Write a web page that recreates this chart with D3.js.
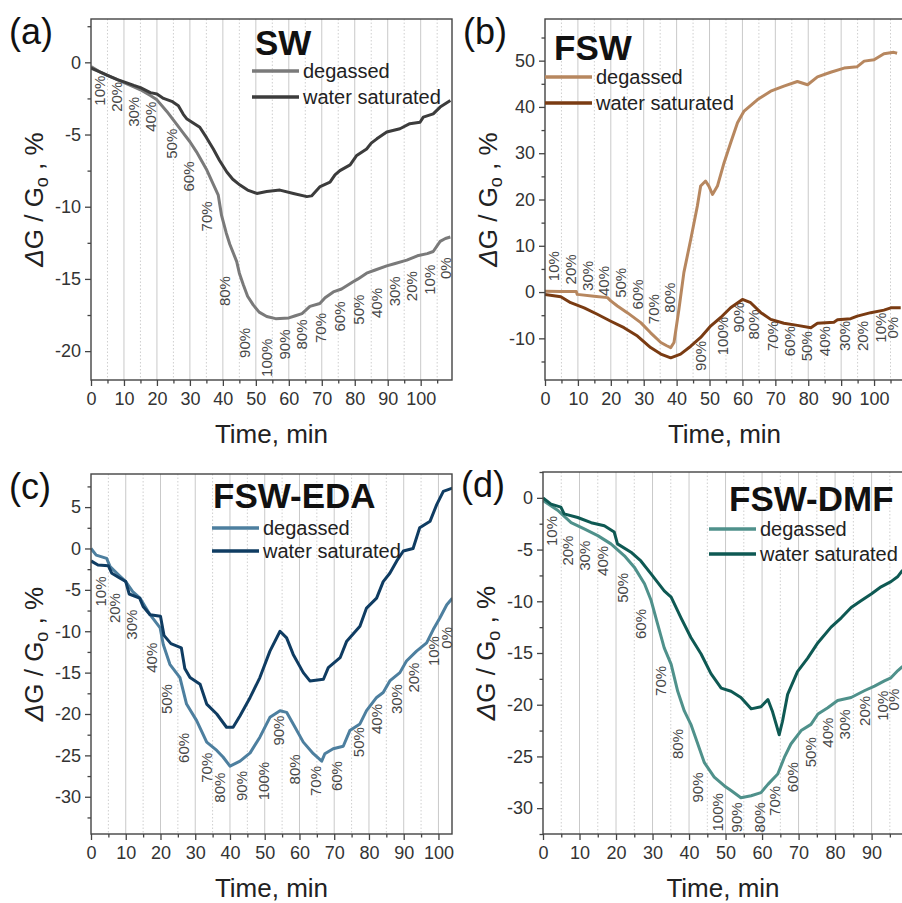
<!DOCTYPE html>
<html>
<head>
<meta charset="utf-8">
<script src="https://cdn.jsdelivr.net/npm/d3@7"></script>
<style>
  body { margin: 0; background: #fff; }
  svg { display: block; font-family: "Liberation Sans", Arial, sans-serif; }
</style>
</head>
<body>
<script>
// ---- data : [time (min), ΔG/G0 (%)] ----
const swDegassed = [[0,-0.3],[3,-0.7],[5,-0.9],[8,-1.2],[10,-1.4],[13,-1.7],[15,-1.9],[18,-2.3],[20,-2.6],[23,-3.4],[26,-4.3],[28,-4.9],[30,-5.5],[32,-6.2],[35,-7.4],[37,-8.4],[38.6,-9.2],[39.6,-10.6],[41,-11.8],[42.1,-12.6],[44.2,-13.8],[45,-14.6],[46.2,-15.4],[47.5,-16.2],[49.2,-16.8],[51,-17.3],[53.3,-17.6],[56,-17.75],[60,-17.7],[62,-17.55],[64,-17.4],[65,-17.2],[66.4,-16.9],[69.4,-16.7],[71,-16.3],[73.5,-15.9],[76,-15.7],[79.5,-15.2],[81,-15.0],[83.6,-14.6],[86,-14.4],[89.7,-14.1],[92,-13.95],[95.8,-13.7],[99,-13.4],[102,-13.25],[103.8,-13.1],[105.9,-12.4],[107.5,-12.2],[109,-12.1]];
const swWater = [[0,-0.4],[3,-0.7],[5,-0.9],[8,-1.2],[10,-1.35],[13,-1.6],[15,-1.75],[18,-2.1],[20,-2.2],[22,-2.5],[24.5,-2.7],[26.5,-3.0],[28,-3.6],[29,-3.9],[31,-4.2],[33,-4.5],[35,-5.2],[37.1,-6.0],[39,-6.8],[41.2,-7.6],[43,-8.1],[45.2,-8.5],[47.5,-8.85],[50.3,-9.08],[53.3,-8.95],[57.3,-8.85],[61.4,-9.08],[65.5,-9.3],[66.9,-9.25],[69.5,-8.6],[72.5,-8.3],[74,-7.8],[75.5,-7.5],[78.6,-7.1],[80.6,-6.45],[83.6,-6.0],[85,-5.6],[86.7,-5.3],[89.7,-4.83],[93.7,-4.6],[96.7,-4.25],[99.8,-4.15],[100.8,-3.8],[103.8,-3.57],[105.9,-3.1],[109,-2.65]];

const fswDegassed = [[0,0.2],[5,0.1],[9.5,0.1],[9.8,-0.5],[14.9,-0.9],[19,-1.2],[20,-1.9],[22,-3.0],[25,-4.45],[29.1,-6.6],[32.1,-8.8],[35.2,-10.9],[37,-11.6],[38.2,-12.0],[39.2,-10.9],[40.7,-3.7],[42.2,4.2],[44.3,11.4],[46.3,18.6],[47.3,22.9],[48.8,24.0],[49.8,22.9],[50.9,21.1],[52.4,22.9],[54.4,27.9],[56.4,32.2],[58.5,36.6],[60.5,39.1],[64.6,41.6],[68.6,43.4],[72.6,44.5],[76.7,45.5],[79.8,44.8],[82.8,46.5],[86.8,47.5],[90.9,48.4],[94.9,48.7],[97,49.9],[100,50.2],[103,51.5],[106,51.8],[107,51.6]];
const fswWater = [[0,-0.5],[4.8,-1.0],[7.8,-2.3],[11.9,-3.4],[15.9,-4.8],[20,-6.3],[24,-7.7],[28.1,-9.5],[32.1,-12.0],[35.2,-13.4],[38.2,-14.2],[41.2,-13.4],[44.3,-11.7],[47.3,-9.8],[50.4,-7.3],[53.4,-5.5],[56.4,-3.4],[60,-1.6],[62.5,-2.3],[65.6,-4.45],[68.6,-5.9],[72.6,-6.75],[76.7,-7.2],[80.8,-7.7],[82.8,-6.75],[87.8,-6.5],[88.9,-6.0],[92.9,-5.75],[94.9,-5.2],[99,-4.45],[103,-3.9],[105.1,-3.4],[108.1,-3.4]];

const edaDegassed = [[0,0],[1.5,-0.8],[4.5,-1.2],[5.5,-2.2],[8,-3.2],[10,-4.0],[12,-5.2],[14.1,-6.0],[17,-8.0],[19.9,-9.6],[20.8,-11.6],[22.7,-14.0],[25.6,-15.6],[27.5,-18.8],[30.4,-20.8],[33.3,-23.4],[36.2,-24.4],[38,-25.2],[40,-26.3],[42.9,-25.7],[45.8,-24.7],[48.6,-22.8],[51.5,-20.4],[54.4,-19.6],[56.3,-19.8],[58.2,-21.2],[61.1,-23.4],[64,-24.8],[66.4,-25.7],[67.3,-24.8],[69.7,-24.2],[72.6,-23.9],[74.5,-22.0],[77.4,-21.2],[79.3,-19.6],[82.2,-18.0],[84.1,-17.4],[86,-16.0],[88.9,-15.0],[90.8,-13.6],[93.7,-12.4],[96.6,-11.4],[98.5,-9.8],[100.4,-8.4],[102.4,-6.8],[104,-6.0]];
const edaWater = [[0,-1.5],[2,-2.0],[5,-2.1],[6,-3.0],[8,-3.5],[10,-4.0],[11,-5.5],[14,-6.0],[15,-7.0],[17,-8.0],[20,-8.2],[21,-10.5],[23,-11.5],[26,-12.0],[27,-14.5],[28.5,-15.6],[31.4,-16.4],[33.3,-18.8],[36.2,-20.0],[39,-21.6],[40.9,-21.6],[42.9,-20.2],[45.8,-18.0],[48.6,-15.6],[51.5,-12.4],[54.4,-10.0],[56.3,-10.8],[58.2,-12.8],[61.1,-15.0],[63,-16.0],[66.9,-15.8],[68.3,-14.4],[71.7,-13.2],[73.6,-11.2],[77.4,-9.4],[79.3,-7.2],[82.2,-6.0],[84.1,-4.0],[86,-3.0],[88,-1.5],[89.9,-0.3],[92.7,0],[94.6,2.5],[97.6,3.3],[99.5,5.3],[101.4,6.9],[104,7.3]];

const dmfDegassed = [[0,-0.25],[4,-1.2],[7.7,-2.4],[11.3,-3.0],[15,-3.65],[18.6,-4.45],[22.3,-5.6],[25,-6.7],[27.8,-8.3],[29.6,-9.9],[31.4,-12.2],[33.2,-14.5],[35.1,-16.1],[36.9,-18.7],[38.7,-20.6],[40.5,-21.9],[42.4,-23.8],[44.2,-25.6],[46.9,-27.0],[49.7,-27.85],[51.5,-28.3],[54.2,-29.0],[57,-28.8],[59.7,-28.5],[61.6,-27.7],[64.3,-26.7],[66.1,-25.1],[67.9,-23.8],[70.7,-22.5],[73.4,-21.9],[75.3,-20.9],[78,-20.3],[80.7,-19.6],[84.4,-19.3],[88,-18.65],[90.8,-18.2],[93.5,-17.7],[95.3,-17.4],[97.2,-16.7],[98.5,-16.3]];
const dmfWater = [[0,0],[2.2,-0.6],[4.9,-0.9],[5.8,-1.55],[9.5,-1.9],[13.2,-2.4],[16.8,-2.7],[19.5,-3.3],[20.4,-4.45],[24.1,-5.25],[26.8,-6.1],[29.6,-7.35],[33.2,-9.0],[35.1,-9.6],[37.8,-11.6],[40.5,-13.5],[43.3,-15.1],[46,-17.0],[48.8,-18.4],[51.5,-18.7],[54.2,-19.3],[57,-20.4],[59.7,-20.2],[61.6,-19.5],[62.8,-20.6],[64.7,-22.9],[65.6,-21.6],[67,-19.0],[69.7,-16.8],[72.5,-15.5],[75.3,-14.0],[78.9,-12.5],[81.7,-11.6],[84.4,-10.6],[87.1,-9.95],[89.9,-9.3],[92.6,-8.6],[95.3,-8.1],[97.2,-7.6],[98.5,-7.0]];

// humidity step labels: [text, time, value]
const swSteps = [["10%",2.7,-1.96],["20%",7.8,-2.39],["30%",12.8,-3.43],["40%",17.9,-3.77],["50%",24.5,-5.64],["60%",29.5,-7.91],["70%",35.1,-10.67],["80%",40.6,-15.84],["90%",46.7,-19.43],["100%",53.3,-20.46],["90%",58.8,-19.54],["80%",63.9,-18.85],["70%",69.5,-18.4],["60%",75.5,-17.6],["50%",81.1,-17.13],["40%",86.6,-16.67],["30%",92.2,-15.86],["20%",97.3,-15.5],["10%",102.8,-15.06],["0%",107.6,-14.26]];
const fswSteps = [["10%",2.7,5.6],["20%",7.8,4.9],["30%",12.9,3.5],["40%",17.9,2.4],["50%",23.0,2.0],["60%",28.1,-0.5],["70%",33.1,-3.7],["80%",37.7,-1.2],["90%",47.3,-13.8],["100%",53.9,-9.5],["90%",58.7,-5.5],["80%",63.5,-7.0],["70%",69.1,-9.5],["60%",74.2,-10.6],["50%",79.5,-11.7],["40%",84.8,-10.6],["30%",90.9,-9.5],["20%",96.5,-9.5],["10%",102.0,-7.7],["0%",105.5,-7.7]];
const edaSteps = [["10%",2.6,-5.2],["20%",6.9,-7.2],["30%",11.7,-9.2],["40%",17.5,-13.2],["50%",21.8,-18.2],["60%",26.6,-24.1],["70%",33.3,-26.5],["80%",37.1,-28.9],["90%",43.4,-28.7],["100%",49.6,-28.1],["90%",53.9,-22.0],["80%",58.7,-26.7],["70%",64.5,-28.1],["60%",70.7,-27.5],["50%",76.9,-23.4],["40%",82.2,-20.6],["30%",88,-18.2],["20%",92.7,-15.6],["10%",98.5,-12.4],["0%",102.2,-10.8]];
const dmfSteps = [["10%",2.2,-3.2],["20%",6.8,-5.1],["30%",11.3,-5.6],["40%",16.4,-6.1],["50%",21.8,-8.7],["60%",26.8,-12.2],["70%",32.3,-17.7],["80%",36.9,-23.8],["90%",42.4,-28.0],["100%",47.9,-30.4],["90%",52.9,-30.9],["80%",59.3,-30.9],["70%",63.4,-29.3],["60%",68.4,-27.0],["50%",73.4,-24.6],["40%",78,-22.7],["30%",82.5,-21.9],["20%",88,-20.6],["10%",93.1,-20.1],["0%",96.0,-19.5]];

const seriesNames = ["degassed", "water saturated"];

// ---- panel layout ----
const panels = [
  { tag: "(a)", title: "SW", box: { l: 91, t: 19, r: 452, b: 380 }, xMax: 109.5, yDom: [-22, 3], yStep: 5,
    colors: ["#7a7a7a", "#3c3c3c"], series: [swDegassed, swWater], steps: swSteps,
    titleAt: [255, 55], legendAt: [252, 71, 26] },
  { tag: "(b)", title: "FSW", box: { l: 545, t: 19, r: 904, b: 380 }, xMax: 109.1, yDom: [-19, 59], yStep: 10,
    colors: ["#b7875f", "#7a3b12"], series: [fswDegassed, fswWater], steps: fswSteps,
    titleAt: [554, 60], legendAt: [545, 77, 26] },
  { tag: "(c)", title: "FSW-EDA", box: { l: 91, t: 474, r: 452, b: 834 }, xMax: 103.9, yDom: [-34.5, 9], yStep: 5,
    colors: ["#4d7f9f", "#0f3c62"], series: [edaDegassed, edaWater], steps: edaSteps,
    titleAt: [213, 508], legendAt: [212, 528, 23] },
  { tag: "(d)", title: "FSW-DMF", box: { l: 543, t: 472, r: 903, b: 834 }, xMax: 98.6, yDom: [-32.5, 2.5], yStep: 5,
    colors: ["#4f918b", "#0e5953"], series: [dmfDegassed, dmfWater], steps: dmfSteps,
    titleAt: [729, 511], legendAt: [709, 529, 25] }
];

const svg = d3.select("body").append("svg").attr("width", 902).attr("height", 903);

panels.forEach((p, i) => {
  const { l, t, r, b } = p.box;
  const x = d3.scaleLinear().domain([0, p.xMax]).range([l, r]);
  const y = d3.scaleLinear().domain(p.yDom).range([b, t]);
  const g = svg.append("g");

  // vertical grid: solid every 10 min, dotted at the 5s
  g.selectAll(".gmaj").data(d3.range(10, p.xMax, 10)).enter().append("line")
    .attr("x1", d => x(d)).attr("x2", d => x(d)).attr("y1", t).attr("y2", b)
    .attr("stroke", "#c9c9c9").attr("stroke-width", 1);
  g.selectAll(".gmin").data(d3.range(5, p.xMax, 10)).enter().append("line")
    .attr("x1", d => x(d)).attr("x2", d => x(d)).attr("y1", t).attr("y2", b)
    .attr("stroke", "#cfcfcf").attr("stroke-width", 1).attr("stroke-dasharray", "1.5,2");

  // clip
  const cid = "clip" + i;
  svg.append("clipPath").attr("id", cid).append("rect")
    .attr("x", l).attr("y", t).attr("width", r - l).attr("height", b - t);

  // step labels
  g.selectAll(".step").data(p.steps).enter().append("text")
    .attr("transform", d => `translate(${x(d[1])},${y(d[2])}) rotate(-90)`)
    .attr("text-anchor", "middle").attr("dominant-baseline", "central")
    .attr("font-size", 15).attr("fill", "#474747")
    .text(d => d[0]);

  // curves
  const line = d3.line().x(d => x(d[0])).y(d => y(d[1]));
  p.series.forEach((s, k) => {
    g.append("path").datum(s).attr("d", line)
      .attr("fill", "none").attr("stroke", p.colors[k]).attr("stroke-width", 3)
      .attr("stroke-linejoin", "round").attr("clip-path", `url(#${cid})`);
  });

  // frame
  g.append("rect").attr("x", l).attr("y", t).attr("width", r - l).attr("height", b - t)
    .attr("fill", "none").attr("stroke", "#444").attr("stroke-width", 1.4);

  // x axis
  const xMajor = d3.range(0, p.xMax + 0.01, 10);
  const xMinor = d3.range(5, p.xMax, 10);
  g.append("g").attr("transform", `translate(0,${b})`)
    .call(d3.axisBottom(x).tickValues(xMajor).tickSize(6).tickPadding(6).tickFormat(d => String(d)));
  g.append("g").attr("transform", `translate(0,${b})`)
    .call(d3.axisBottom(x).tickValues(xMinor).tickSize(3.5).tickFormat(""));

  // y axis
  const [y0, y1] = p.yDom;
  const yMajor = d3.range(Math.ceil(y0 / p.yStep) * p.yStep, y1 + 0.01, p.yStep);
  const half = p.yStep / 2;
  const yMinor = d3.range(Math.ceil(y0 / half) * half, y1 + 0.01, half).filter(v => Math.abs(v / p.yStep - Math.round(v / p.yStep)) > 1e-6);
  g.append("g").attr("transform", `translate(${l},0)`)
    .call(d3.axisLeft(y).tickValues(yMajor).tickSize(6).tickPadding(4).tickFormat(d => String(d)));
  g.append("g").attr("transform", `translate(${l},0)`)
    .call(d3.axisLeft(y).tickValues(yMinor).tickSize(3.5).tickFormat(""));

  g.selectAll(".domain").attr("stroke", "none");
  g.selectAll(".tick line").attr("stroke", "#444").attr("stroke-width", 1.3);
  g.selectAll(".tick text").attr("font-size", 18).attr("fill", "#333")
    .attr("font-family", "'Liberation Sans', Arial, sans-serif");

  // axis titles
  g.append("text").attr("x", (l + r) / 2).attr("y", b + 63).attr("text-anchor", "middle")
    .attr("font-size", 26).attr("fill", "#222").text("Time, min");
  const yt = g.append("text")
    .attr("transform", `translate(${l - 48},${(t + b) / 2}) rotate(-90)`)
    .attr("text-anchor", "middle").attr("font-size", 26).attr("fill", "#222");
  yt.append("tspan").attr("font-style", "italic").text("Δ");
  yt.append("tspan").text("G / G");
  yt.append("tspan").attr("font-size", 18).attr("dy", 5).text("o");
  yt.append("tspan").attr("dy", -5).text(" ,  %");

  // panel tag and title
  g.append("text").attr("x", l - 82).attr("y", t + 25).attr("font-size", 36).attr("fill", "#111").text(p.tag);
  g.append("text").attr("x", p.titleAt[0]).attr("y", p.titleAt[1]).attr("font-size", 35)
    .attr("font-weight", "bold").attr("fill", "#111").text(p.title);

  // legend
  const [lx, ly, gap] = p.legendAt;
  seriesNames.forEach((name, k) => {
    const yy = ly + k * gap;
    g.append("line").attr("x1", lx).attr("x2", lx + 47).attr("y1", yy).attr("y2", yy)
      .attr("stroke", p.colors[k]).attr("stroke-width", 3.5);
    g.append("text").attr("x", lx + 51).attr("y", yy + 7).attr("font-size", 20).attr("fill", "#222").text(name);
  });
});
</script>
</body>
</html>
